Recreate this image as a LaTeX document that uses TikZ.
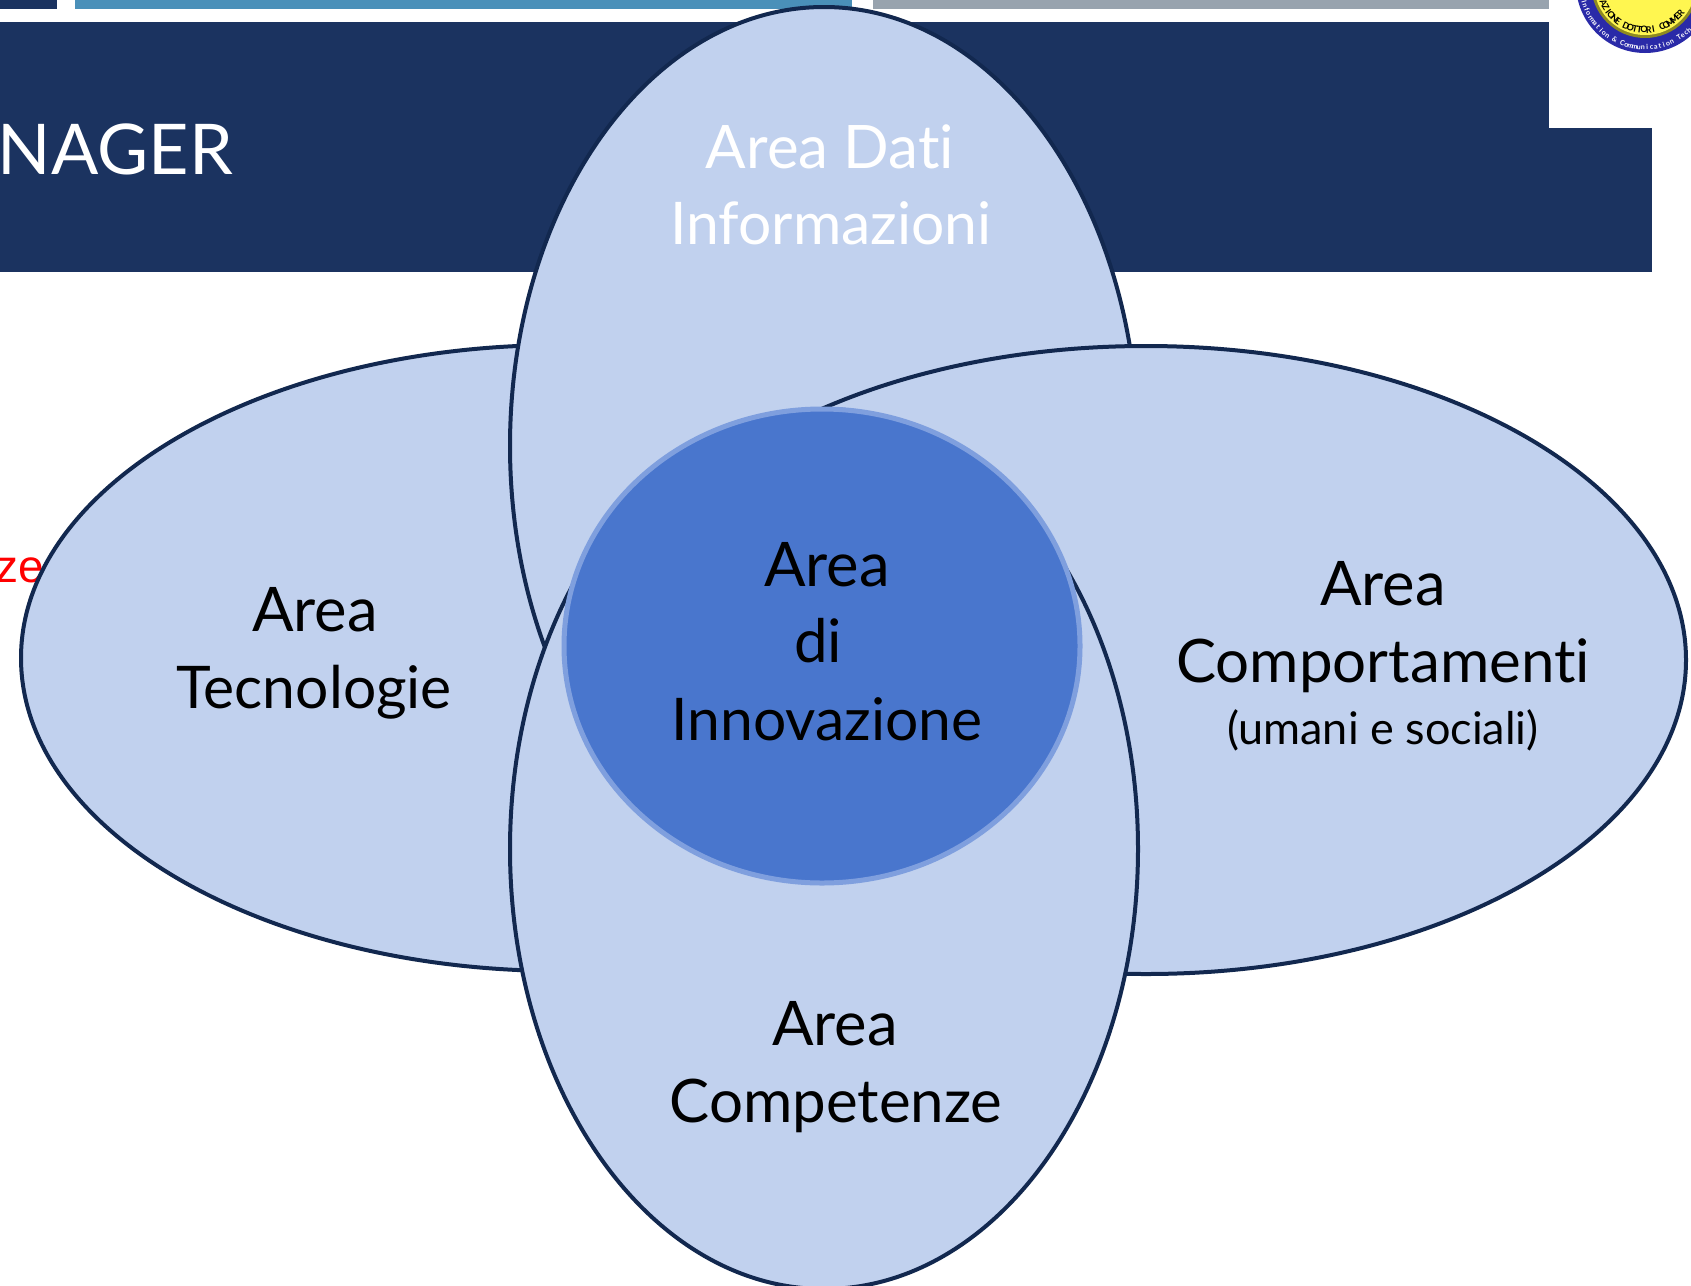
\documentclass[tikz,border=0pt]{standalone}
\usepackage{fontspec}
\setmainfont{Lato}[Ligatures=NoCommon]
\newfontfamily\redfont{Liberation Sans}
\usetikzlibrary{shapes.geometric}
\definecolor{navy}{HTML}{1B3360}
\definecolor{barblue}{HTML}{4A90B9}
\definecolor{bargrey}{HTML}{98A3AE}
\definecolor{petal}{HTML}{C1D1EE}
\definecolor{petaledge}{HTML}{12284F}
\definecolor{core}{HTML}{4976CD}
\definecolor{coreedge}{HTML}{7F9FDE}
\definecolor{seal}{HTML}{FFF650}
\definecolor{sealrim}{HTML}{8E8A20}
\definecolor{sealblue}{HTML}{2A2AA8}
\tikzset{
  x=1pt,y=-1pt,
  petalshape/.style={ellipse,draw=petaledge,fill=petal,line width=4pt,inner sep=0pt,outer sep=0pt},
  coreshape/.style={ellipse,draw=coreedge,fill=core,line width=5pt,inner sep=0pt,outer sep=0pt},
  big/.style={anchor=base,inner sep=0pt,outer sep=0pt,font=\fontsize{60}{60}\selectfont},
  bigarea/.style={anchor=base,inner sep=0pt,outer sep=0pt,font=\fontsize{61.5}{60}\selectfont},
  bigtight/.style={anchor=base,inner sep=0pt,outer sep=0pt,font=\fontsize{58.8}{60}\selectfont},
  small/.style={anchor=base,inner sep=0pt,outer sep=0pt,font=\fontsize{45}{46}\selectfont},
  sealtext/.style={anchor=base,inner sep=0pt,outer sep=0pt,font=\fontsize{9}{9}\selectfont\bfseries},
  ringtext/.style={anchor=base,inner sep=0pt,outer sep=0pt,text=white,font=\fontsize{7}{7}\selectfont\bfseries},
}
\begin{document}
\begin{tikzpicture}
\useasboundingbox (0,0) rectangle (1691,1285);
\clip (0,0) rectangle (1691,1285);
\fill[white] (0,0) rectangle (1691,1285);
% bars
\fill[navy] (0,0) rectangle (57,9);
\fill[barblue] (75,0) rectangle (852,9);
\fill[bargrey] (873,0) rectangle (1549,9);
% header
\fill[navy] (0,22) rectangle (1549,272);
\fill[navy] (1549,128) rectangle (1652,272);
\node[anchor=base east,inner sep=0pt,text=white,font=\fontsize{70}{70}\selectfont] (title) at (233,174) {NAGER};
\node[anchor=base east,inner sep=0pt,text=red,font=\redfont\fontsize{46}{46}\selectfont] (redtxt) at (44,582) {ze};
% logo
\begin{scope}[shift={(1645,-16)},y=1pt]
  \fill[sealblue] (0,0) circle[radius=69];
  \fill[sealrim] (0,0) circle[radius=54];
  \fill[seal] (0,0) circle[radius=51];
  \foreach \c [count=\i from 0] in {A,Z,I,O,N,E,{},D,O,T,T,O,R,I,{},C,O,M,M,E,R}{
    \pgfmathsetmacro\ang{205+5.8*\i}
    \node[sealtext,rotate=\ang+90] at (\ang:49) {\c};
  }
  \foreach \c [count=\i from 0] in {I,n,f,o,r,m,a,t,i,o,n,{},\&,{},C,o,m,m,u,n,i,c,a,t,i,o,n,{},T,e,c,h}{
    \pgfmathsetmacro\ang{196+3.8*\i}
    \node[ringtext,rotate=\ang+90] at (\ang:66) {\c};
  }
\end{scope}
% petals
\node[petalshape,minimum width=1080,minimum height=626] (left) at (561,658) {};
\node[petalshape,minimum width=628,minimum height=878] (top) at (824,446) {};
\node[petalshape,minimum width=1080,minimum height=628] (right) at (1146,660) {};
\node[petalshape,minimum width=628,minimum height=880] (bottom) at (824,849) {};
\node[coreshape,minimum width=516,minimum height=474] (core) at (822,646) {};
% texts
\node[big,text=white] (d1) at (830,168) {Area Dati};
\node[bigtight,text=white] (d2) at (831,244) {Informazioni};
\node[bigarea] (t1) at (315,631) {Area};
\node[bigtight] (t2) at (314,708) {Tecnologie};
\node[bigarea] (i1) at (827,586) {Area};
\node[big] (i2) at (818,662) {di};
\node[bigtight] (i3) at (827,740) {Innovazione};
\node[bigarea] (c1) at (1383,605) {Area};
\node[big] (c2) at (1383,682) {Comportamenti};
\node[small] (c3) at (1383,744) {(umani e sociali)};
\node[bigarea] (k1) at (835,1045) {Area};
\node[big] (k2) at (836,1122) {Competenze};
\end{tikzpicture}
\end{document}
